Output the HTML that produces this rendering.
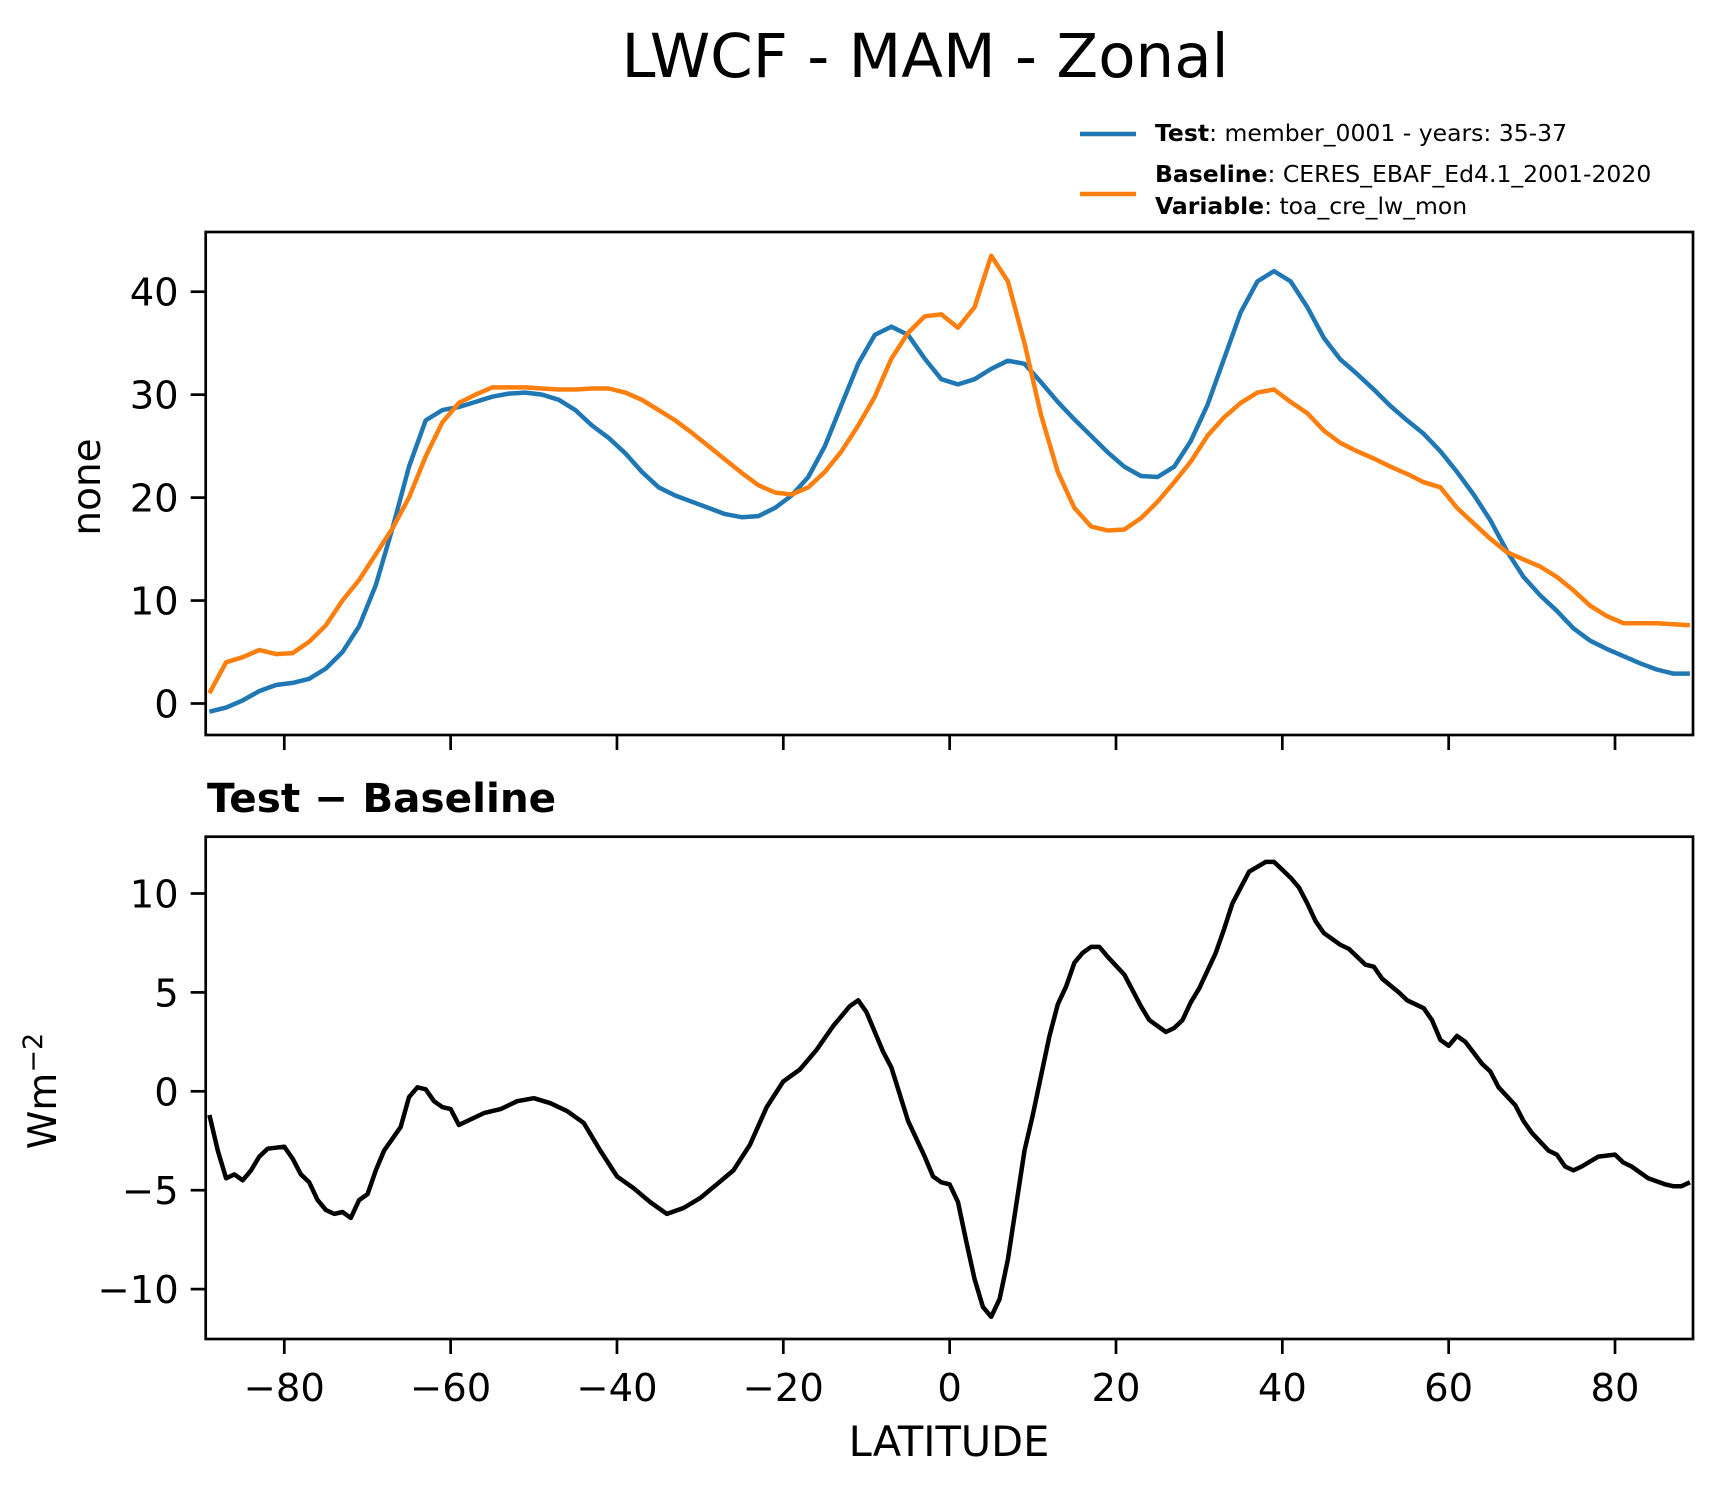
<!DOCTYPE html>
<html><head><meta charset="utf-8"><style>
html,body{margin:0;padding:0;background:#fff;}
svg{display:block;font-family:"DejaVu Sans","Liberation Sans",sans-serif;}
</style></head><body>
<svg id="chart" width="1722" height="1496" viewBox="0 0 1722 1496" xmlns="http://www.w3.org/2000/svg">
<rect width="1722" height="1496" fill="#fff"/>
<text x="925" y="77" font-size="61" text-anchor="middle">LWCF - MAM - Zonal</text>
<g>
<line x1="1080" y1="134" x2="1136" y2="134" stroke="#1f77b4" stroke-width="4.5"/>
<text x="1155" y="141" font-size="23.5"><tspan font-weight="bold">Test</tspan>: member_0001 - years: 35-37</text>
<line x1="1080" y1="194" x2="1136" y2="194" stroke="#ff7f0e" stroke-width="4.5"/>
<text x="1155" y="182" font-size="23.5"><tspan font-weight="bold">Baseline</tspan>: CERES_EBAF_Ed4.1_2001-2020</text>
<text x="1155" y="214" font-size="23.5"><tspan font-weight="bold">Variable</tspan>: toa_cre_lw_mon</text>
</g>
<g id="top"></g>
<g id="bot"></g>
<text x="207" y="812" font-size="40.5" font-weight="bold">Test − Baseline</text>
<text x="949" y="1456" font-size="41.5" text-anchor="middle">LATITUDE</text>
<text transform="translate(100,487) rotate(-90)" font-size="39" text-anchor="middle">none</text>
<text transform="translate(56,1091) rotate(-90)" font-size="39" text-anchor="middle">Wm<tspan dy="-14" font-size="27">−2</tspan></text>
</svg>
<script>
const latTB = [-89,-87,-85,-83,-81,-79,-77,-75,-73,-71,-69,-67,-65,-63,-61,-59,-57,-55,-53,-51,-49,-47,-45,-43,-41,-39,-37,-35,-33,-31,-29,-27,-25,-23,-21,-19,-17,-15,-13,-11,-9,-7,-5,-3,-1,1,3,5,7,9,11,13,15,17,19,21,23,25,27,29,31,33,35,37,39,41,43,45,47,49,51,53,55,57,59,61,63,65,67,69,71,73,75,77,79,81,83,85,87,89];
const testVals = [-0.8,-0.4,0.3,1.2,1.8,2.0,2.4,3.4,5.0,7.5,11.5,17,23,27.5,28.5,28.8,29.3,29.8,30.1,30.2,30.0,29.5,28.5,27,25.8,24.3,22.5,21,20.2,19.6,19.0,18.4,18.1,18.2,19.0,20.2,22,25,29,33,35.8,36.6,35.8,33.5,31.5,31.0,31.5,32.5,33.3,33.0,31.2,29.3,27.6,26,24.4,23,22.1,22.0,23,25.5,29,33.5,38,41,42,41,38.5,35.5,33.4,32,30.5,28.9,27.5,26.2,24.5,22.5,20.3,17.8,14.8,12.3,10.5,9,7.3,6.1,5.3,4.6,3.9,3.3,2.9,2.9];
const baseVals = [1,4,4.5,5.2,4.8,4.9,6.0,7.6,10,12,14.5,17,20,24,27.3,29.2,30.0,30.7,30.7,30.7,30.6,30.5,30.5,30.6,30.6,30.2,29.5,28.5,27.5,26.3,25,23.7,22.4,21.2,20.5,20.3,21.0,22.5,24.5,27,29.8,33.5,36,37.6,37.8,36.5,38.5,43.5,41,35,28,22.5,19,17.2,16.8,16.9,18,19.6,21.5,23.5,26,27.8,29.2,30.2,30.5,29.3,28.2,26.5,25.3,24.5,23.8,23.0,22.3,21.5,21,19,17.5,16,14.7,14.0,13.3,12.3,11.0,9.5,8.5,7.8,7.8,7.8,7.7,7.6];
const latDiff = [-89,-88,-87,-86,-85,-84,-83,-82,-80,-79,-78,-77,-76,-75,-74,-73,-72,-71,-70,-69,-68,-66,-65,-64,-63,-62,-61,-60,-59,-58,-56,-54,-52,-50,-48,-46,-44,-42,-40,-38,-36,-34,-32,-30,-28,-26,-24,-22,-20,-18,-16,-14,-12,-11,-10,-8,-7,-5,-3,-2,-1,0,1,2,3,4,5,6,7,9,10,11,12,13,14,15,16,17,18,19,21,23,24,26,27,28,29,30,32,33,34,36,38,39,40,41,42,43,44,45,47,48,50,51,52,54,55,57,58,59,60,61,62,64,65,66,68,69,70,72,73,74,75,76,78,80,81,82,84,86,87,88,89];
const diffVals = [-1.2,-3,-4.4,-4.2,-4.5,-4,-3.3,-2.9,-2.8,-3.4,-4.2,-4.6,-5.5,-6,-6.2,-6.1,-6.4,-5.5,-5.2,-4,-3,-1.8,-0.3,0.2,0.1,-0.5,-0.8,-0.9,-1.7,-1.5,-1.1,-0.9,-0.5,-0.35,-0.6,-1.0,-1.6,-3.0,-4.3,-4.9,-5.6,-6.2,-5.9,-5.4,-4.7,-4.0,-2.7,-0.8,0.5,1.1,2.1,3.3,4.3,4.6,4.0,2.0,1.2,-1.5,-3.3,-4.3,-4.6,-4.7,-5.6,-7.6,-9.5,-10.9,-11.4,-10.5,-8.5,-3,-1.2,0.8,2.8,4.4,5.3,6.5,7.0,7.3,7.3,6.8,5.9,4.3,3.6,3.0,3.2,3.6,4.5,5.2,7.0,8.2,9.5,11.1,11.6,11.6,11.2,10.8,10.3,9.5,8.6,8.0,7.4,7.2,6.4,6.3,5.7,5.0,4.6,4.2,3.6,2.6,2.3,2.8,2.5,1.4,1.0,0.2,-0.7,-1.5,-2.1,-3.0,-3.2,-3.8,-4.0,-3.8,-3.3,-3.2,-3.6,-3.8,-4.4,-4.7,-4.8,-4.8,-4.6];
const xTicks = [-80,-60,-40,-20,0,20,40,60,80];
const xTickLabels = ["−80","−60","−40","−20","0","20","40","60","80"];
const topTicks = [0,10,20,30,40];
const botTicks = [-10,-5,0,5,10];
const botTickLabels = ["−10","−5","0","5","10"];

const NS="http://www.w3.org/2000/svg";
const L=205.7,R=1693;
const X=v=>949.65+v*8.317;
const Yt=v=>703.5-v*10.295;
const Yb=v=>1091.3-v*19.78;
function mk(tag,attrs,parent){const e=document.createElementNS(NS,tag);for(const k in attrs)e.setAttribute(k,attrs[k]);parent.appendChild(e);return e;}

function panel(g,top,bot,Y,yt,ytl,name,showXLabels){
  const clipId='clip-'+name;
  const cp=mk('clipPath',{id:clipId},g);
  mk('rect',{x:L,y:top,width:R-L,height:bot-top},cp);
  const lg=mk('g',{'clip-path':'url(#'+clipId+')'},g);
  
  
  const fr=mk('rect',{x:L,y:top,width:R-L,height:bot-top,fill:'none',stroke:'#000','stroke-width':2.7},g);
  
  
  xTicks.forEach((t,i)=>{
    const tk=mk('line',{x1:X(t),x2:X(t),y1:bot,y2:bot+15,stroke:'#000','stroke-width':2.7},g);
    
    
    if(showXLabels){
      const tx=mk('text',{x:X(t),y:1401,'font-size':38.5,'text-anchor':'middle'},g);
      tx.textContent=xTickLabels[i];
      
      
    }
  });
  yt.forEach((t,i)=>{
    const tk=mk('line',{x1:L-15,x2:L,y1:Y(t),y2:Y(t),stroke:'#000','stroke-width':2.7},g);
    
    
    const tx=mk('text',{x:L-27,y:Y(t)+14,'font-size':38.5,'text-anchor':'end'},g);
    tx.textContent=ytl[i];
    
    
  });
  return lg;
}
function line(g,xs,ys,Y,color,name){
  const d=xs.map((x,i)=>(i?'L':'M')+X(x).toFixed(1)+' '+Y(ys[i]).toFixed(1)).join(' ');
  const p=mk('path',{d:d,fill:'none',stroke:color,'stroke-width':4.5,'stroke-linejoin':'round'},g);
  
  
}
const tg=panel(document.getElementById('top'),232,735,Yt,topTicks,topTicks.map(String),'top',false);
line(tg,latTB,testVals,Yt,'#1f77b4','test-line');
line(tg,latTB,baseVals,Yt,'#ff7f0e','baseline-line');
const bg=panel(document.getElementById('bot'),836.7,1339,Yb,botTicks,botTickLabels,'bottom',true);
line(bg,latDiff,diffVals,Yb,'#000','difference-line');
</script>
</body></html>
